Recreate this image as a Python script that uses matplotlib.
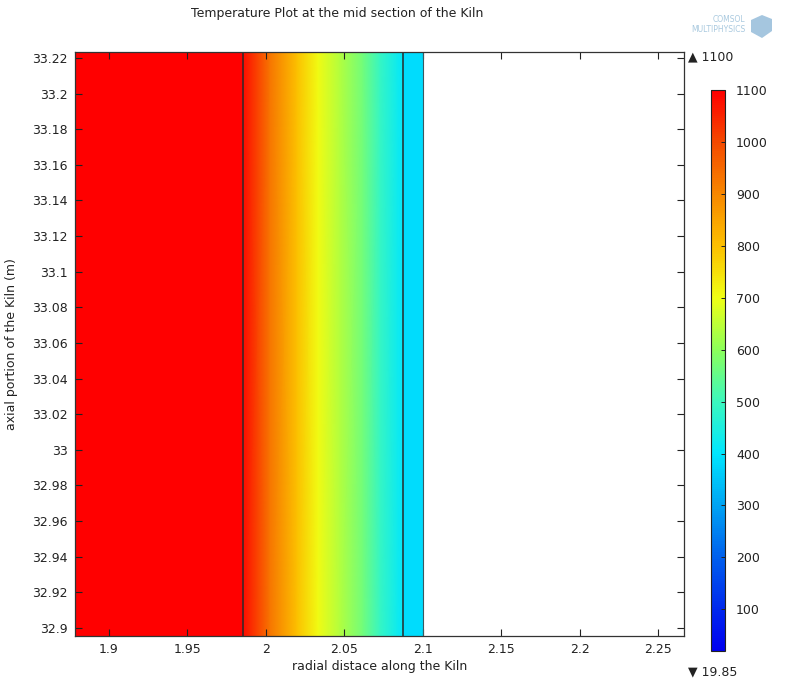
import numpy as np
import matplotlib
matplotlib.use('Agg')
import matplotlib.pyplot as plt
from matplotlib.colors import LinearSegmentedColormap, Normalize
from matplotlib.patches import Polygon

plt.rcParams['font.family'] = ['DejaVu Sans']

# axis limits
x_lim = (1.8785, 2.2664)
y_lim = (32.8955, 33.2235)

# temperature profile along the radius
x_nodes = [1.8785, 1.9854, 1.9854, 2.0026, 2.0199, 2.0333, 2.0473, 2.0620, 2.0729, 2.0837, 2.0875, 2.0875, 2.1001]
t_nodes = [1100, 1100, 1085, 930, 800, 705, 640, 565, 490, 425, 405, 385, 385]

# domain boundaries
boundaries = [1.9854, 2.0875, 2.1001]

t_min, t_max = 19.85, 1100
cbar_ticks = [100, 200, 300, 400, 500, 600, 700, 800, 900, 1000, 1100]
x_ticks = [1.9, 1.95, 2.0, 2.05, 2.1, 2.15, 2.2, 2.25]
x_ticklabels = ['1.9', '1.95', '2', '2.05', '2.1', '2.15', '2.2', '2.25']
y_ticks = [32.9, 32.92, 32.94, 32.96, 32.98, 33.0, 33.02, 33.04, 33.06, 33.08,
           33.1, 33.12, 33.14, 33.16, 33.18, 33.2, 33.22]
y_ticklabels = ['32.9', '32.92', '32.94', '32.96', '32.98', '33', '33.02', '33.04', '33.06',
                '33.08', '33.1', '33.12', '33.14', '33.16', '33.18', '33.2', '33.22']

# COMSOL-like rainbow
cmap_vals = [19.85, 100, 200, 300, 400, 500, 600, 700, 800, 900, 1000, 1100]
cmap_cols = ['#0000f0', '#0028ee', '#0060ee', '#00a4f4', '#00e6ff', '#3cf8be',
             '#8cff5a', '#f0ff14', '#fcc000', '#f88800', '#f44a00', '#ff0000']
pos = [(v - t_min) / (t_max - t_min) for v in cmap_vals]
cmap = LinearSegmentedColormap.from_list('comsol_rainbow', list(zip(pos, cmap_cols)))
norm = Normalize(vmin=t_min, vmax=t_max)

fig = plt.figure(figsize=(7.87, 6.81), dpi=100)
ax = fig.add_axes([75 / 787, 45 / 681, 609 / 787, 584.3 / 681])

X, Y = np.meshgrid(x_nodes, list(y_lim))
C = np.vstack([t_nodes, t_nodes])
ax.pcolormesh(X, Y, C, cmap=cmap, norm=norm, shading='gouraud')

for b in boundaries[:2]:
    ax.axvline(b, color='#2a2a2a', lw=1.1)
ax.axvline(boundaries[2], color='#3a5a60', lw=0.8)

ax.set_xlim(x_lim)
ax.set_ylim(y_lim)
ax.set_xticks(x_ticks)
ax.set_xticklabels(x_ticklabels)
ax.set_yticks(y_ticks)
ax.set_yticklabels(y_ticklabels)
ax.tick_params(direction='in', length=5, width=0.8, top=True, right=True,
               labelsize=9, colors='#222222', pad=5)
for s in ax.spines.values():
    s.set_color('#333333')
    s.set_linewidth(0.9)

ax.set_xlabel('radial distace along the Kiln', fontsize=9, color='#222222', labelpad=3)
ax.set_ylabel('axial portion of the Kiln (m)', fontsize=9, color='#222222')
ax.yaxis.set_label_coords(-0.093, 0.5)

fig.text(337 / 787, 1 - 13 / 681, 'Temperature Plot at the mid section of the Kiln',
         ha='center', va='center', fontsize=9, color='#222222')

# colorbar
cax = fig.add_axes([711 / 787, 30 / 681, 14 / 787, 561 / 681])
sm = plt.cm.ScalarMappable(norm=norm, cmap=cmap)
cb = fig.colorbar(sm, cax=cax, ticks=cbar_ticks)
cb.outline.set_edgecolor('#222222')
cb.outline.set_linewidth(0.8)
cax.tick_params(direction='in', length=3, width=0.7, labelsize=9, colors='#222222', pad=8)

fig.text(688 / 787, 1 - 57 / 681, '▲ 1100', ha='left', va='center', fontsize=9, color='#222222')
fig.text(688 / 787, 1 - 672 / 681, '▼ 19.85', ha='left', va='center', fontsize=9, color='#222222')

# faint COMSOL logo
fig.text(745 / 787, 1 - 19 / 681, 'COMSOL', ha='right', va='center', fontsize=5.5,
         color='#a9c9df')
fig.text(745 / 787, 1 - 30 / 681, 'MULTIPHYSICS', ha='right', va='center', fontsize=5.5,
         color='#a9c9df')
logo = Polygon([[751 / 787, 1 - 20 / 681], [762 / 787, 1 - 15 / 681], [772 / 787, 1 - 19 / 681],
                [772 / 787, 1 - 31 / 681], [762 / 787, 1 - 38 / 681], [751 / 787, 1 - 32 / 681]],
               closed=True, transform=fig.transFigure, facecolor='#8fb8d8', edgecolor='none',
               alpha=0.8)
fig.patches.append(logo)

fig.savefig('out.png', dpi=100)
